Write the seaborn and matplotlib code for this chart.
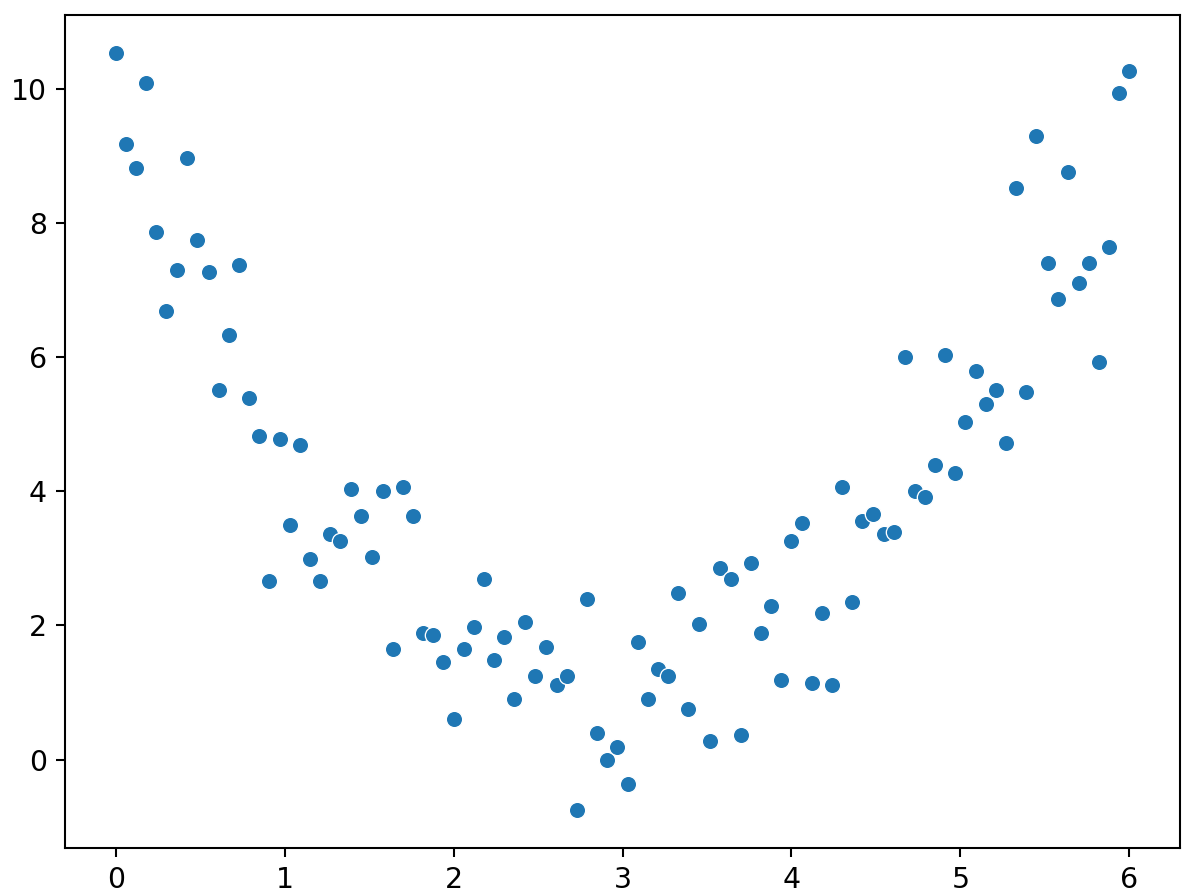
import matplotlib
matplotlib.use("Agg")
import matplotlib.pyplot as plt
import seaborn as sns
import pandas as pd

# ======================================
# Data
# ======================================

x_values = [
    0.00, 0.06, 0.12, 0.18, 0.24, 0.30, 0.36, 0.42, 0.48, 0.55,
    0.61, 0.67, 0.73, 0.79, 0.85, 0.91, 0.97, 1.03, 1.09, 1.15,
    1.21, 1.27, 1.33, 1.39, 1.45, 1.52, 1.58, 1.64, 1.70, 1.76,
    1.82, 1.88, 1.94, 2.00, 2.06, 2.12, 2.18, 2.24, 2.30, 2.36,
    2.42, 2.48, 2.55, 2.61, 2.67, 2.73, 2.79, 2.85, 2.91, 2.97,
    3.03, 3.09, 3.15, 3.21, 3.27, 3.33, 3.39, 3.45, 3.52, 3.58,
    3.64, 3.70, 3.76, 3.82, 3.88, 3.94, 4.00, 4.06, 4.12, 4.18,
    4.24, 4.30, 4.36, 4.42, 4.48, 4.55, 4.61, 4.67, 4.73, 4.79,
    4.85, 4.91, 4.97, 5.03, 5.09, 5.15, 5.21, 5.27, 5.33, 5.39,
    5.45, 5.52, 5.58, 5.64, 5.70, 5.76, 5.82, 5.88, 5.94, 6.00,
]

y_values = [
    10.54, 9.19, 8.83, 10.10, 7.87, 6.69, 7.31, 8.97, 7.75, 7.28,
    5.52, 6.33, 7.38, 5.39, 4.82, 2.66, 4.78, 3.50, 4.69, 2.99,
    2.66, 3.37, 3.26, 4.04, 3.64, 3.02, 4.01, 1.65, 4.07, 3.64,
    1.89, 1.86, 1.45, 0.60, 1.65, 1.98, 2.69, 1.48, 1.83, 0.91,
    2.05, 1.24, 1.68, 1.11, 1.24, -0.75, 2.40, 0.40, 0.00, 0.18,
    -0.37, 1.75, 0.91, 1.35, 1.24, 2.49, 0.75, 2.02, 0.27, 2.86,
    2.69, 0.36, 2.93, 1.89, 2.29, 1.18, 3.26, 3.53, 1.14, 2.19,
    1.11, 4.07, 2.35, 3.56, 3.67, 3.37, 3.40, 6.00, 4.01, 3.91,
    4.40, 6.03, 4.28, 5.04, 5.79, 5.31, 5.52, 4.72, 8.52, 5.49,
    9.30, 7.41, 6.87, 8.76, 7.11, 7.41, 5.93, 7.65, 9.94, 10.27,
]

x_ticks = [0, 1, 2, 3, 4, 5, 6]
y_ticks = [0, 2, 4, 6, 8, 10]


# ======================================
# Plot
# ======================================

df = pd.DataFrame({"x": x_values, "y": y_values})

fig = plt.figure(figsize=(1189 / 186, 896 / 186), dpi=186)
ax = fig.add_axes([0.0547, 0.054, 0.9377, 0.929])

sns.scatterplot(data=df, x="x", y="y", ax=ax, s=40)

ax.set_xticks(x_ticks)
ax.set_yticks(y_ticks)
ax.tick_params(labelsize=11)
ax.set_xlabel("")
ax.set_ylabel("")

fig.savefig("out.png", dpi=186)
plt.close(fig)
